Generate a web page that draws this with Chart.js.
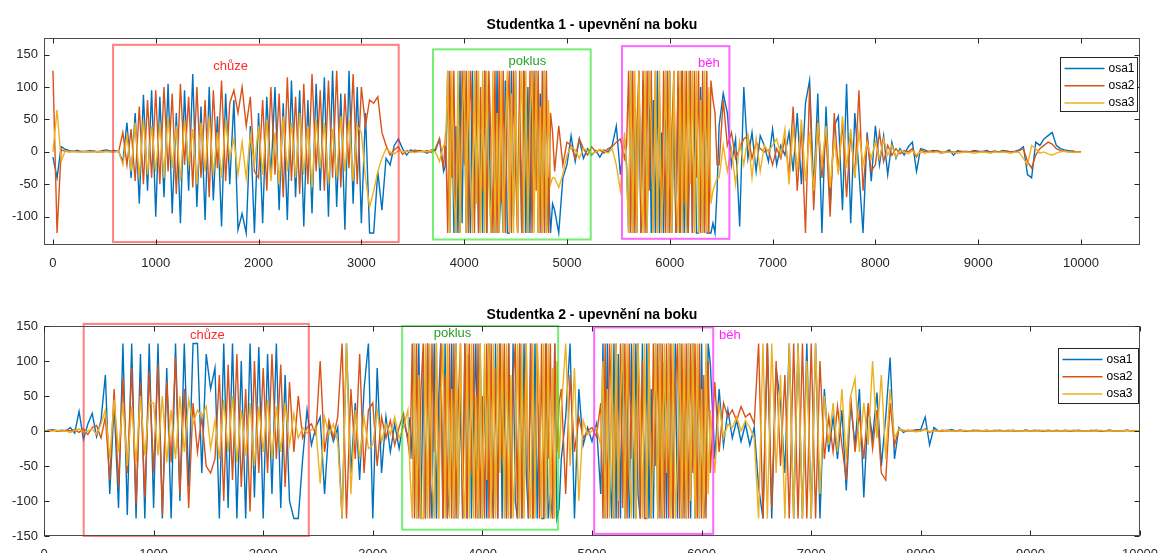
<!DOCTYPE html>
<html>
<head>
<meta charset="utf-8">
<title>Studentka 1 a 2 - upevnění na boku</title>
<script src="https://cdn.jsdelivr.net/npm/chart.js@4.4.1/dist/chart.umd.min.js"></script>
<style>
  body { margin: 0; background: #fff; }
  canvas { display: block; }
</style>
</head>
<body>
<canvas id="chart1" width="1158" height="280"></canvas>
<canvas id="chart2" width="1158" height="273"></canvas>
<script>
const seriesNames = ['osa1', 'osa2', 'osa3'];
const seriesColors = ['#0072BD', '#D95319', '#EDB120'];
const titles = ['Studentka 1 - upevnění na boku', 'Studentka 2 - upevnění na boku'];
const activities = ['chůze', 'poklus', 'běh'];
const activityStroke = ['rgba(255,40,40,0.6)', 'rgba(40,230,40,0.65)', 'rgba(255,40,255,0.7)'];
const activityText = ['#ff2a2a', '#2aa02a', '#ff22ff'];

const xTickValues = [0, 1000, 2000, 3000, 4000, 5000, 6000, 7000, 8000, 9000, 10000];
const yTicks1 = [-100, -50, 0, 50, 100, 150];
const yTicks2 = [-150, -100, -50, 0, 50, 100, 150];

// activity boxes in data units: [xFrom, xTo, yFrom, yTo, labelX, labelY]
const boxes1 = [
  [585, 3363, -139, 165, 1728, 132],
  [3697, 5231, -135, 158, 4615, 140],
  [5535, 6580, -134, 163, 6381, 136]
];
const boxes2 = [
  [362, 2416, -150, 153, 1491, 137],
  [3268, 4691, -141, 150, 3727, 140],
  [5020, 6106, -147, 148, 6258, 137]
];

// sample positions: [from, to, step] - finer steps where the signal saturates
const s1Segments = [[0, 3800, 40], [3820, 4860, 20], [4880, 5560, 40], [5580, 6460, 20], [6480, 10000, 40]];
const s2Segments = [[0, 3320, 40], [3340, 4700, 20], [4720, 5080, 40], [5100, 6060, 20], [6080, 10000, 40]];

// Studentka 1
const s1Osa1 = [
  -8, -40, 8, 4, 2, 1, 2, 0, 1, 2, 1, 0, 2, 3, 1, 2, 0, -15, 45, -40, 60, -80, 88, -60, 95,
  -100, 85, -70, 105, -95, 60, -110, 95, -60, 120, -85, 70, -105, 100, -75, 55, -115, 90, -50, 80, -120, -95, -125, 40, -125,
  60, -110, 85, -40, 100, -90, 75, -105, 110, -70, 95, -115, 80, -95, 105, -60, 115, -100, 125, -85, 90, -120, 125, -80, 100,
  -110, 60, -125, -125, -30, -90, -10, -20, 10, 20, 5, -5, 3, 0, 2, 1, -2, 3, 2, 20, -30,
  // poklus
  -20, 125, -125, 90, -125, 40, -125, 125, -110, 125,
  -125, 60, -125, 125, -90, 125, -125, 30, -125, 125,
  -125, 80, -125, -60, -125, 125, -125, -40, -125, 110,
  -125, -125, 125, -100, 125, -125, 70, -125, 125, -125,
  100, -125, 125, -70, 125, -125, 90, -125, 125, -125,
  -40, -125, -80,
  -90, -125, -40, -20, 25, -15, 20, -10, 5, -5, 2, -8, 3, 0, 10, 40, -35, 20,
  // běh
  -20, -125, 125, -125, 60, -125, 125, -125, 110, -40,
  -125, 125, -125, 80, -125, 125, -125, 30, -125, 125,
  -125, 125, -125, 60, -125, 100, -125, 125, -125, -50,
  -125, 125, -125, 70, -125, -125, 100, -125, 40, -125,
  -125, -125, -110, -125, -60,
  40, 90, 60, -20, 20, -115, 100, -10, 30, -30, 25, 10, -15,
  35, -20, 10, -5, 30, -30, 60, -50, 75, 110, -60, 90, -125, 70, -85, 40, 55, -90, 105, -110, 60, -30, -125, 30, -45,
  40, -20, 25, -35, 15, -10, 5, -5, 8, 15, -30, 5, 3, 0, 2, 1, -2, 0, 3, -5, 2, 0, 1, 0, 2,
  1, 0, 2, 0, 1, 0, 2, 1, 0, 1, 3, 8, -35, -40, 15, 10, 20, 25, 30, 10, 5, 3, 2, 1, 0, 0
];
const s1Osa2 = [
  125, -125, 3, 1, 0, 1, 0, 1, 0, 0, 1, 0, 0, 1, 0, 0, 1, 30, -20, 35, -45, 70, -50, 80, -40,
  95, -50, 100, -30, 90, -65, 105, -20, 85, -55, 100, -40, 80, -70, 95, -25, 110, -45, 75, 95, 60, 100, 40, 85, -30,
  -40, 80, -60, 100, -35, 90, -70, 115, -45, 85, -65, 105, -50, 120, -30, 95, -60, 110, -40, 125, -55, 90, -25, 120, -50,
  100, 40, 80, 75, 85, 30, 10, -5, 3, 8, -4, 2, 0, 3, 1, 0, 2, -1, 5, 20, -25,
  // poklus
  30, -125, 125, -40, 125, -125, 80, -125, 125, -20,
  125, -125, 125, 50, -125, 125, -125, 100, -60, 125,
  -125, 125, 20, -125, 125, -125, 125, -80, 125, -125,
  60, 125, -125, 125, -30, -125, 125, -125, 125, 40,
  -125, 125, -125, 125, -60, 125, -125, 125, -125, 125,
  -125, 60, 30,
  -30, 40, -20, 15, 10, -10, 20, 5, -5, 8, 0, 3, -2, 5, 8, 15, 20, -10,
  // běh
  10, 125, -125, 125, -125, 40, 125, -125, 125, -125,
  125, -60, 125, -125, 125, -125, 90, -125, 125, -125,
  125, -125, 30, 125, -125, 125, -125, 125, -80, 125,
  -125, 125, -125, 125, -40, 125, -125, 125, -125, 125,
  -125, 110, 80, 60, -20,
  -20, 80, 10, 30, -10, 5, 20, 25, -10, 15, 5, 0, 3,
  -20, 5, -10, 20, -35, 70, -60, 40, -125, 100, -90, 50, -40, 30, -100, 60, -30, 45, -70, 30, -40, 95, -60, 20, -30,
  -20, 30, -15, 10, -5, 5, -3, 2, 0, 5, -8, 3, 0, 1, 0, 2, 0, -1, 1, 0, 0, 1, 0, 0, 1,
  0, 1, 0, 0, 1, 0, 0, 1, 0, 0, 2, 5, -15, -25, -5, 5, 10, 15, 12, 5, 2, 1, 0, 1, 0, 0
];
const s1Osa3 = [
  0, 65, -15, 2, 0, 1, 0, 0, 1, 0, 0, 1, 0, 1, 0, 0, 1, -20, 25, -30, 45, -40, 50, -35, 40,
  -30, 45, -40, 55, -25, 40, -45, 50, -20, 35, -50, 45, -30, 55, -35, 30, -40, 50, -10, 20, -35, 15, -40, 25, -20,
  40, -35, 50, -45, 30, -50, 55, -30, 45, -40, 60, -35, 40, -55, 50, -25, 45, -50, 35, -40, 55, -30, 50, -45, 40,
  30, -40, -85, -60, -30, -10, 5, 0, -3, 2, 0, 1, 0, -1, 0, 1, 0, 2, 0, -15, 10,
  // poklus
  10, 125, -125, 125, -60, -125, 125, -125, 50, 125,
  -125, 125, -40, -125, 125, -80, 125, -125, 125, -125,
  125, -50, -125, 125, -125, 60, -125, 125, -125, 30,
  125, -125, 90, -125, 125, -125, 40, 125, -125, 125,
  -125, 50, 125, -125, 125, -125, 70, -125, 125, -125,
  80, -50, -40,
  -40, -55, -35, -5, 8, 3, -10, 5, 2, -3, 0, 4, 1, -2, 5, -20, -60, 30,
  // běh
  -30, -125, 125, -125, 125, -125, 125, -50, -125, 125,
  -125, 125, 40, -125, 125, -125, 125, -125, -30, 125,
  -125, 125, -125, 125, -60, -125, 125, -125, 125, -125,
  125, -50, 125, -125, 125, -125, 80, -125, 125, -125,
  100, -80, -60, -50, -40,
  -40, 10, -30, 5, -50, 15, -20, 25, -40, 20, -30, 10, 0,
  10, 20, -5, 35, -50, 40, -30, 50, -45, 30, -60, 45, -20, 40, -55, 20, -35, 55, -25, 35, -40, 30, -20, 15, -10,
  15, -10, 20, -5, 10, -8, 2, 0, -3, 2, -5, 0, -2, 0, -1, 0, -2, 0, -1, 0, -2, -1, 0, -1, -2,
  -1, 0, -1, -2, 0, -1, 0, -1, -2, 0, -1, -10, -20, 10, 5, -2, 0, -3, -5, -2, 0, 1, 0, -1, 0, -1
];

// Studentka 2
const s2Osa1 = [
  0, 1, 2, 0, 1, 0, 5, -3, 28, -12, 10, 25, -8, 15, 80, -90, 40, -110, 125, -120, 125, -125, 110, -125, 125,
  -110, 125, -125, 90, -125, 125, -100, 125, -80, 125, 125, -60, 110, 60, 90, -125, 125, -110, 125, -125, 100, -125, 125, -95, 120,
  -125, 110, -90, 125, -110, 80, -100, -125, -125, -40, 30, -20, 5, 20, -90, 10, -15, 5, -125, 125, -60, 40, -70, 60, 125,
  -125, 90, -60, 20, -30, 10, -25, 15, -10,
  // poklus
  20, -40, 125, -125, 125, -125, 90, -125, 125, -60,
  -125, 125, -125, 40, 125, -125, 125, -125, -80, 125,
  -125, 125, -125, 60, -125, 125, -125, 110, -125, 20,
  125, -125, 125, -125, 90, -125, 125, -50, -125, 125,
  -125, 125, -125, 70, -125, 125, -125, 125, -100, -125,
  125, -125, 125, -60, -125, 125, -125, 125, -125, 40,
  -125, -125, 125, -125, -90, -125, 125, -125, -110,
  -40, 20, 125, -125, 60, -20, 5, -15, 10, -90,
  // běh
  125, -125, 125, -60, -125, 125, -125, 110, -125, 125,
  -125, 80, -125, 125, -125, 125, -90, -125, 125, -125,
  125, -125, 60, -125, 125, -125, 125, -125, 100, -125,
  125, -70, -125, 125, -125, 125, -125, 40, -125, 125,
  -125, 125, -125, 90, -125, 125, -125, -80, 125,
  95, -40, 60, -20, 30, -10, 15, -15, 10, -20, 5, -80, -125, 125, -125, 90, 40, -60, 125, -125, 125, -125, 125,
  -125, 125, -125, 60, -30, 20, -40, 30, -85, 40, -20, 60, -95, 35, -10, 55, -50, 20, 105, -40, 5, -2, 1, 0, 2,
  2, 20, -20, 5, 0, 1, 0, 2, 0, 1, 0, 0, 1, 0, 0, 1, 0, 0, 1, 0, 0, 1, 0, 0, 1,
  0, 1, 0, 0, 1, 0, 0, 0, 1, 0, 0, 1, 0, 0, 0, 1, 0, 0, 1, 0, 0, 0, 1, 0, 0, 0
];
const s2Osa2 = [
  0, 0, 1, 0, 0, 1, 0, 2, -2, 3, -5, 5, 8, -10, 20, -70, 60, -80, 75, -60, 90, -105, 70, -95, 85,
  -60, 95, -120, 70, -45, 105, -90, 60, -110, 40, -30, 20, -50, -60, -40, 80, -100, 95, -70, 110, -80, 60, -115, 100, -60,
  90, -60, 110, -40, 95, -80, 70, -30, 50, -10, 5, 10, -5, 100, -30, 15, -10, 20, 125, -125, 60, -40, 110, -60, 30,
  40, -50, 20, -10, 15, -20, 5, 25, -15,
  // poklus
  -40, 125, -125, 125, -125, 60, 125, -125, 125, -125,
  125, -30, 125, -125, 125, -125, 80, -125, 125, -125,
  125, -125, 40, 125, -125, 125, -125, 125, -60, 125,
  -125, 125, -125, 50, -125, 125, -125, 125, -125, 90,
  -125, 125, -40, 125, -125, 125, -125, 70, 125, -125,
  125, -125, 30, 125, -125, 125, -125, -60, 125, -125,
  125, -125, 125, -40, 125, -125, 125, -30, 40,
  60, -90, 80, -30, 20, -10, 0, 5, -8, 40,
  // běh
  -125, 125, -125, 125, 40, -125, 125, -125, 125, -110,
  125, -125, 125, -40, 125, -125, 125, -125, 100, -125,
  -125, 125, -125, 125, -50, 125, -125, 125, -125, 125,
  -125, 125, -125, 60, 125, -125, 125, -125, 125, -125,
  125, -60, 125, -125, 125, -125, 80, -125, 100,
  -60, 70, -30, 40, 20, 30, 15, 35, 20, 25, 10, 125, -125, 125, -110, 100, -50, 80, -125, 125, -125, 125, -125,
  125, -125, 100, -40, 20, -30, 35, -20, -70, 50, -30, 25, -40, 40, -25, 30, -60, -70, 40, -20, 2, 1, 0, 1, 0,
  0, 3, -2, 1, 0, 0, 1, 0, 0, 1, 0, 0, 0, 1, 0, 0, 0, 1, 0, 0, 1, 0, 0, 0, 1,
  0, 0, 1, 0, 0, 0, 1, 0, 0, 0, 1, 0, 0, 0, 1, 0, 0, 0, 1, 0, 0, 0, 1, 0, 0, 0
];
const s2Osa3 = [
  0, 0, 0, 1, 0, 0, -2, 1, 3, -2, 0, 3, -5, 10, 30, -40, 45, -30, 40, -50, 35, -45, 50, -35, 40,
  40, -35, 50, -45, 30, -40, 50, -30, 45, 10, 30, 20, 35, -25, 15, -40, 45, -30, 50, -45, 30, -35, 40, -50, 35,
  -30, 45, -40, 35, -30, 40, -20, 25, -10, 5, -3, 2, 5, -75, 20, -5, 10, -15, -125, 125, -90, 30, -40, 20, -25,
  -20, 30, -15, 10, -5, 20, -10, 5, 30,
  // poklus
  -60, -125, 125, -125, 80, -125, -125, 125, -125, 125,
  -60, -125, 125, -125, 40, 125, -125, 125, -125, 60,
  -125, 125, -125, 125, -60, -125, 125, -125, 125, -125,
  50, -125, 125, -125, 125, -70, 125, -125, 125, -125,
  125, -60, 125, -125, 125, -125, 80, -125, -40, 125,
  -125, 125, -125, 125, -50, -125, 125, -125, 125, 60,
  -125, 125, -125, 125, -125, 90, -125, 100, -40,
  30, 125, -50, 90, -100, 15, -5, 0, 5, -20,
  // běh
  100, -125, 60, -125, 125, -125, 125, -100, 50, 125,
  -125, 125, -60, -125, 125, -125, 125, 40, -125, 125,
  -125, 125, -125, -40, 125, -125, 125, -125, 125, -60,
  125, -125, 125, -125, -50, 125, -125, 125, -125, 125,
  -100, 125, -125, 125, -125, 60, -125, 125, -90,
  30, -60, 40, -10, 10, 5, 20, 0, 15, 5, -10, -125, 125, -125, 125, -60, 80, -125, 125, -125, 125, -125, 100,
  -125, 125, -90, 50, -20, 40, -30, 60, -40, 50, 75, -30, 40, -20, 100, -10, 80, -40, 60, -10, 3, 0, 1, 0, -1,
  0, 2, -1, 0, 0, 1, 0, 0, 0, 0, 1, 0, 0, 0, 0, 1, 0, 0, 0, 0, 0, 1, 0, 0, 0,
  0, 0, 0, 1, 0, 0, 0, 0, 0, 1, 0, 0, 0, 0, 0, 0, 1, 0, 0, 0, 0, 0, 1, 0, 0, 0
];

Chart.defaults.font.family = '"Liberation Sans", Arial, Helvetica, sans-serif';
Chart.defaults.color = '#262626';

function samplePositions(segments) {
  const xs = [];
  segments.forEach(([from, to, step]) => {
    for (let x = from; x <= to; x += step) xs.push(x);
  });
  return xs;
}

function toPoints(values, xs) {
  if (values.length !== xs.length) console.warn('length mismatch', values.length, xs.length);
  return values.map((v, i) => ({ x: xs[i], y: v }));
}

// MATLAB-like frame, inward ticks, title, activity boxes and legend box
const matlabLook = {
  id: 'matlabLook',
  afterDatasetsDraw(chart, args, opts) {
    const { ctx, chartArea: a, scales: { x, y } } = chart;
    ctx.save();

    // activity boxes
    opts.boxes.forEach((b, i) => {
      const x0 = x.getPixelForValue(b[0]), x1 = x.getPixelForValue(b[1]);
      const y0 = y.getPixelForValue(b[2]), y1 = y.getPixelForValue(b[3]);
      ctx.strokeStyle = activityStroke[i];
      ctx.lineWidth = 2;
      ctx.strokeRect(x0, y1, x1 - x0, y0 - y1);
      ctx.fillStyle = activityText[i];
      ctx.font = '13px "Liberation Sans", Arial, sans-serif';
      ctx.textAlign = 'center';
      ctx.textBaseline = 'middle';
      ctx.fillText(activities[i], x.getPixelForValue(b[4]), y.getPixelForValue(b[5]));
    });

    // frame
    ctx.strokeStyle = '#4d4d4d';
    ctx.lineWidth = 1;
    const L = a.left + 0.5, R = a.right - 0.5, T = a.top + 0.5, B = a.bottom - 0.5;
    ctx.strokeRect(L, T, R - L, B - T);

    // inward ticks
    ctx.strokeStyle = '#262626';
    ctx.beginPath();
    xTickValues.forEach(v => {
      const px = Math.round(x.getPixelForValue(v)) + 0.5;
      ctx.moveTo(px, B); ctx.lineTo(px, B - 5);
      ctx.moveTo(px, T); ctx.lineTo(px, T + 5);
    });
    opts.yTicks.forEach(v => {
      const py = Math.round(y.getPixelForValue(v)) + 0.5;
      ctx.moveTo(L, py); ctx.lineTo(L + 5, py);
      ctx.moveTo(R, py); ctx.lineTo(R - 5, py);
    });
    ctx.stroke();

    // title
    ctx.fillStyle = '#000';
    ctx.font = 'bold 14px "Liberation Sans", Arial, sans-serif';
    ctx.textAlign = 'center';
    ctx.textBaseline = 'alphabetic';
    ctx.fillText(opts.title, (a.left + a.right) / 2, opts.titleBaseline);

    // legend
    const lg = opts.legend;
    const lx = Math.round(a.right - lg.right - lg.width) + 0.5;
    const ly = Math.round(a.top + lg.top) + 0.5;
    ctx.fillStyle = '#fff';
    ctx.fillRect(lx, ly, lg.width, lg.height);
    ctx.strokeStyle = '#262626';
    ctx.strokeRect(lx, ly, lg.width, lg.height);
    ctx.font = '12px "Liberation Sans", Arial, sans-serif';
    ctx.textAlign = 'left';
    ctx.textBaseline = 'middle';
    chart.data.datasets.forEach((ds, i) => {
      const ry = ly + 11 + i * 17.3;
      ctx.strokeStyle = ds.borderColor;
      ctx.lineWidth = 1.5;
      ctx.beginPath();
      ctx.moveTo(lx + 4, ry);
      ctx.lineTo(lx + 44, ry);
      ctx.stroke();
      ctx.fillStyle = '#000';
      ctx.fillText(ds.label, lx + 48, ry);
    });

    ctx.restore();
  }
};

function makeChart(id, series, o) {
  const xs = samplePositions(o.segments);
  return new Chart(document.getElementById(id), {
    type: 'line',
    data: {
      datasets: series.map((vals, i) => ({
        label: seriesNames[i],
        data: toPoints(vals, xs),
        borderColor: seriesColors[i],
        borderWidth: 1.4,
        pointRadius: 0,
        tension: 0,
        order: 3 - i
      }))
    },
    options: {
      responsive: false,
      animation: false,
      events: [],
      devicePixelRatio: 1,
      layout: { padding: { top: o.top, right: 18, left: 0, bottom: 0 } },
      plugins: {
        legend: { display: false },
        tooltip: { enabled: false },
        matlabLook: {
          title: o.title, titleBaseline: o.titleBaseline,
          boxes: o.boxes, yTicks: o.yTicks, legend: o.legend
        }
      },
      scales: {
        x: {
          type: 'linear', min: o.xMin, max: o.xMax,
          grid: { display: false, drawTicks: false },
          border: { display: false },
          afterBuildTicks: s => { s.ticks = xTickValues.map(v => ({ value: v })); },
          afterFit: s => { s.height = o.xAxisHeight; s.paddingLeft = 0; s.paddingRight = 0; },
          ticks: { padding: 11, autoSkip: false, maxRotation: 0, font: { size: 13 }, callback: v => String(v) }
        },
        y: {
          type: 'linear', min: o.yMin, max: o.yMax,
          grid: { display: false, drawTicks: false },
          border: { display: false },
          afterBuildTicks: s => { s.ticks = o.yTicks.map(v => ({ value: v })); },
          afterFit: s => { s.width = 44; s.paddingTop = 0; s.paddingBottom = 0; },
          ticks: { padding: 6, font: { size: 13 }, callback: v => String(v) }
        }
      }
    },
    plugins: [matlabLook]
  });
}

makeChart('chart1', [s1Osa1, s1Osa2, s1Osa3], {
  segments: s1Segments,
  title: titles[0], titleBaseline: 28.5, top: 38, xAxisHeight: 35,
  xMin: -87, xMax: 10574, yMin: -143.5, yMax: 175.5, yTicks: yTicks1,
  boxes: boxes1, legend: { right: 3, top: 19, width: 77, height: 54 }
});

makeChart('chart2', [s2Osa1, s2Osa2, s2Osa3], {
  segments: s2Segments,
  title: titles[1], titleBaseline: 38.5, top: 46, xAxisHeight: 17,
  xMin: 0, xMax: 10000, yMin: -150, yMax: 150, yTicks: yTicks2,
  boxes: boxes2, legend: { right: 2, top: 22, width: 80, height: 55 }
});
</script>
</body>
</html>
